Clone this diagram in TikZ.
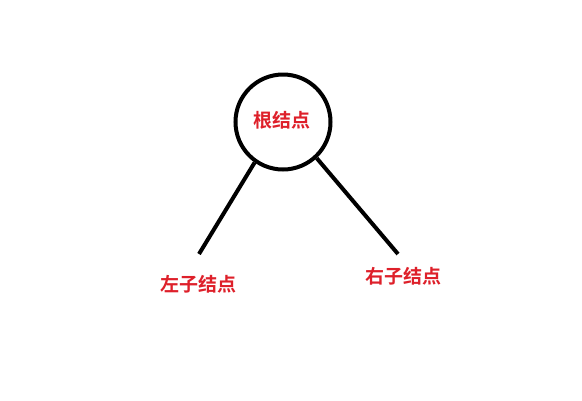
\documentclass[tikz,border=0pt]{standalone}
\usepackage{fontspec}
\newfontfamily\cjk{Noto Sans CJK SC Bold}
\definecolor{lblred}{RGB}{222,32,42}
\begin{document}
\begin{tikzpicture}[x=1pt,y=-1pt,
  lbl/.style={text=lblred,font=\cjk\fontsize{19}{22}\selectfont,inner sep=0pt},
  edge/.style={line width=4pt,black}]
\useasboundingbox[fill=white] (0,0) rectangle (582,400);
\node[draw,circle,line width=4pt,minimum size=95pt,inner sep=0pt] (root) at (283,122) {};
\node[lbl] (rootlbl) at (282,120) {根结点};
\coordinate (lend) at (199,254);
\coordinate (rend) at (398,254);
\draw[edge] (root.235) -- (lend);
\draw[edge] (root.-47) -- (rend);
\node[lbl] (left) at (198,284) {左子结点};
\node[lbl] (right) at (403,276) {右子结点};
\end{tikzpicture}
\end{document}
